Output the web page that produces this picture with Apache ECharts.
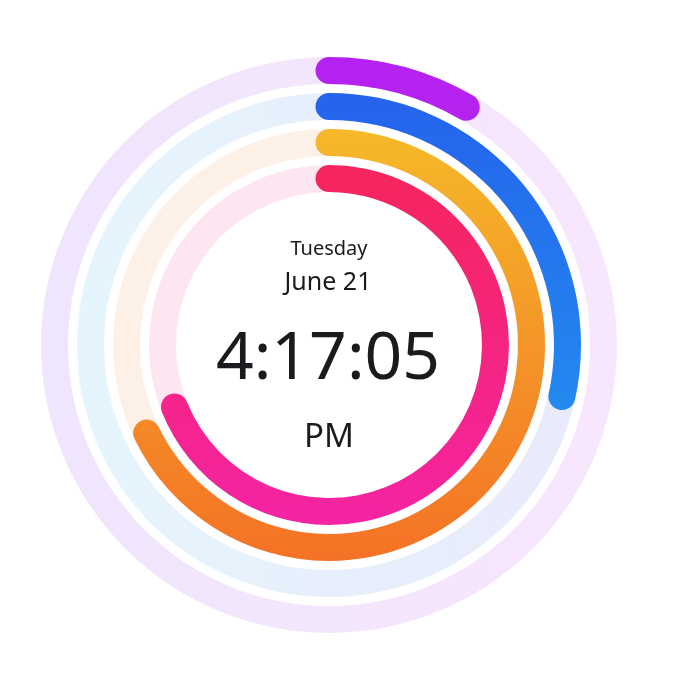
<!DOCTYPE html>
<html>
<head>
<meta charset="utf-8">
<script src="https://cdn.jsdelivr.net/npm/echarts@6/dist/echarts.min.js"></script>
<style>
  html, body { margin: 0; padding: 0; background: #ffffff; }
  #chart { width: 690px; height: 674px; }
</style>
</head>
<body>
<div id="chart"></div>
<script>
// Ring data (outer -> inner): seconds, minutes, hours, day of month
const ringNames = ['Second', 'Minute', 'Hour', 'Day'];
const ringValues = [5, 17.08, 16.28, 20.68];
const ringMax = [60, 60, 24, 30];
// Centre texts
const weekdayText = 'Tuesday';
const dateText = 'June 21';
const timeText = '4:17:05';
const periodText = 'PM';

// Styles
const progressColors = [
  ['#b521f2', '#b523ee'],
  ['#2563eb', '#2389f0'],
  ['#f5b929', '#f47226'],
  ['#f5255c', '#f424a4']
];
const trackColors = [
  ['#efe5fc', '#f8e6fd'],
  ['#e5f5fd', '#e9eafb'],
  ['#fdf0e6', '#fdf1e8'],
  ['#fde6f2', '#fde7f3']
];
const radii = [288, 252, 216, 180];
const ringWidth = 27;
const cx = 329, cy = 345;

function vGrad(c) {
  return { type: 'linear', x: 0, y: 0, x2: 0, y2: 1,
    colorStops: [{ offset: 0, color: c[0] }, { offset: 1, color: c[1] }] };
}
function hGrad(c) {
  return { type: 'linear', x: 0, y: 0, x2: 1, y2: 0,
    colorStops: [{ offset: 0, color: c[0] }, { offset: 1, color: c[1] }] };
}

const series = ringNames.map((name, i) => ({
  name: name,
  type: 'gauge',
  center: [cx, cy],
  radius: radii[i],
  startAngle: 90,
  endAngle: -270,
  min: 0,
  max: ringMax[i],
  pointer: { show: false },
  progress: {
    show: true,
    roundCap: true,
    width: ringWidth,
    itemStyle: { color: vGrad(progressColors[i]) }
  },
  axisLine: {
    lineStyle: { width: ringWidth, color: [[1, hGrad(trackColors[i])]] }
  },
  splitLine: { show: false },
  axisTick: { show: false },
  axisLabel: { show: false },
  title: { show: false },
  detail: { show: false },
  animation: false,
  data: [{ value: ringValues[i], name: name }]
}));

const font = '"Noto Sans", "Open Sans", sans-serif';
const textColor = '#1b1b1f';
function txt(t, x, y, size) {
  return {
    type: 'text', x: x, y: y,
    style: { text: t, fill: textColor, font: size + 'px ' + font,
      textAlign: 'center', textVerticalAlign: 'middle' }
  };
}

const chart = echarts.init(document.getElementById('chart'));
chart.setOption({
  backgroundColor: '#ffffff',
  animation: false,
  series: series,
  graphic: [
    txt(weekdayText, 329, 249, 20),
    txt(dateText, 328, 283, 25),
    txt(timeText, 328, 360, 66),
    txt(periodText, 329, 438, 33)
  ]
});
</script>
</body>
</html>
